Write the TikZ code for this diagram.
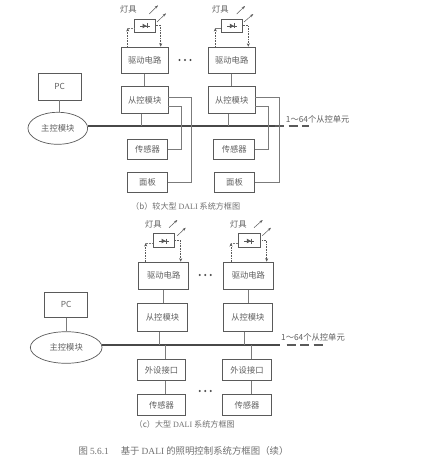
\documentclass[tikz,border=0pt]{standalone}
\usepackage{fontspec}
\newfontfamily\cjk{Noto Sans CJK SC}
\newfontfamily\lser{Liberation Serif}
\usetikzlibrary{shapes.geometric,arrows.meta,calc}
\definecolor{ink}{HTML}{5A5A5A}
\definecolor{txt}{HTML}{606060}
\definecolor{capt}{HTML}{707070}
\tikzset{
  bx/.style 2 args={draw=ink,line width=.7pt,fill=white,minimum width=#1pt,minimum height=#2pt,inner sep=0pt,font=\cjk\fontsize{8.3}{10}\selectfont,text=txt},
  lampbox/.style 2 args={draw=ink,line width=.6pt,fill=white,minimum width=#1pt,minimum height=#2pt,inner sep=0pt},
  oval/.style 2 args={ellipse,draw=ink,line width=.7pt,fill=white,minimum width=#1pt,minimum height=#2pt,inner sep=0pt,font=\cjk\fontsize{8.3}{10}\selectfont,text=txt},
  lbl/.style={inner sep=0pt,font=\cjk\fontsize{8.3}{10}\selectfont,text=txt},
  captxt/.style={inner sep=0pt,font=\cjk\fontsize{8.1}{10}\selectfont,text=capt},
  wire/.style={draw=ink!80,line width=.7pt},
  busline/.style={draw=ink!80!black,line width=1.2pt},
  busdash/.style={draw=ink,line width=1.2pt,dash pattern=on 9pt off 4.5pt},
  feed/.style={draw=ink,line width=.6pt,densely dotted,-{Stealth[length=3.5pt,width=3pt]}},
  ray/.style={draw=ink,line width=.5pt,-{Stealth[length=3.5pt,width=2.5pt]}},
}
\newcommand{\diodeat}[2]{%
  \fill[ink] (#1-2.5,#2-2.3) -- (#1+1.8,#2) -- (#1-2.5,#2+2.3) -- cycle;
  \draw[ink,line width=.6pt] (#1+2.2,#2-2.5) -- (#1+2.2,#2+2.5);
  \draw[ink,line width=.4pt] (#1-5,#2) -- (#1+5,#2);
}
\newcommand{\threedots}[2]{%
  \foreach \d in {-5.5,0,5.5} \fill[ink!80!black] (#1+\d,#2) circle (1.1pt);
}
\begin{document}
\begin{tikzpicture}[x=1pt,y=-1pt]
\useasboundingbox (0,0) rectangle (428,460);
\fill[white] (0,0) rectangle (428,460);

% ---------- panel b ----------
\node[bx={42.7}{26.7}] (pcb) at (59.7,86.7) {PC};
\node[oval={59.7}{32}] (mb) at (57.8,128.3) {主控模块};
\node[lampbox={21}{13}] (lb1) at (144.8,25.5) {};
\node[lampbox={21}{13}] (lb2) at (231.8,25.5) {};
\node[bx={46.7}{26.3}] (db1) at (144.7,60.2) {驱动电路};
\node[bx={46.7}{26.3}] (db2) at (231.7,60.2) {驱动电路};
\node[bx={46.7}{26.6}] (sb1) at (144.7,100) {从控模块};
\node[bx={46.7}{26.6}] (sb2) at (231.7,100) {从控模块};
\node[bx={40.4}{20}] (tb1) at (147.5,149.3) {传感器};
\node[bx={41}{20}] (tb2) at (234.2,149.3) {传感器};
\node[bx={40.4}{20}] (fb1) at (147.5,182.3) {面板};
\node[bx={40.4}{20}] (fb2) at (234.5,182.3) {面板};
\coordinate (busbend) at (275,126);
\coordinate (busend) at (309,126);
\coordinate (fl1) at (127.7,28);
\coordinate (fl2) at (215.3,28);
\node[lbl,anchor=west] (lab1) at (285.7,119.7) {1～64个从控单元};
\node[lbl,anchor=center] (lamp1) at (128.3,9.3) {灯具};
\node[lbl,anchor=center] (lamp2) at (220.3,9.3) {灯具};
\node[captxt,anchor=west] (cb) at (131,206.7) {（b）较大型 {\lser DALI} 系统方框图};

\draw[wire] (pcb) -- (pcb |- mb.north);
\draw[wire] (db1.south) -- (sb1.north);
\draw[wire] (db2.south) -- (sb2.north);
\draw[busline] (mb.east |- busbend) -- (busbend);
\draw[busdash] (busbend) -- (busend);
\draw[wire] ([xshift=-3.7pt]sb1.south) -- ([xshift=-3.7pt]sb1.south |- busbend);
\draw[wire] ([xshift=-3.4pt]sb2.south) -- ([xshift=-3.4pt]sb2.south |- busbend);
\draw[wire] ([yshift=2.7pt]sb1.east) -- +(22.7,0) |- (fb1.east);
\draw[wire] ([yshift=-6.7pt]sb1.east) -- +(13.3,0) |- (tb1.east);
\draw[wire] ([yshift=2.7pt]sb2.east) -- +(23.7,0) |- (fb2.east);
\draw[wire] ([yshift=-6.7pt]sb2.east) -- +(13.3,0) |- (tb2.east);
\draw[feed] ([xshift=-17pt]db1.north) -- (fl1);
\draw[wire,line width=.5pt,densely dotted] (fl1) -- (fl1 -| lb1.west);
\draw[feed] (lb1.east) -| ([xshift=16pt]db1.north);
\draw[feed] ([xshift=-16.4pt]db2.north) -- (fl2);
\draw[wire,line width=.5pt] (fl2) -- (fl2 -| lb2.west);
\draw[feed] (lb2.east) -| ([xshift=16.6pt]db2.north);
\diodeat{145}{26}
\diodeat{232.3}{26}
\draw[ray] (149.3,14) -- (158,5.3);
\draw[ray] (157,22) -- (166,13.3);
\draw[ray] (236.7,14) -- (245,6);
\draw[ray] (244,22) -- (253.3,14);
\threedots{185}{60}

% ---------- panel c ----------
\node[bx={43}{25.3}] (pcc) at (66.2,304.7) {PC};
\node[oval={71.7}{31.6}] (mc) at (66.2,347.5) {主控模块};
\node[lampbox={21.7}{14}] (lc1) at (163.8,240.7) {};
\node[lampbox={21.7}{14}] (lc2) at (249.2,240.7) {};
\node[bx={50}{27.3}] (dc1) at (163.7,275.7) {驱动电路};
\node[bx={49.3}{27.3}] (dc2) at (248.4,275.7) {驱动电路};
\node[bx={50.4}{28.4}] (sc1) at (162.5,317.5) {从控模块};
\node[bx={49.7}{28.4}] (sc2) at (247.9,317.5) {从控模块};
\node[bx={48.4}{21.4}] (ic1) at (161.5,370) {外设接口};
\node[bx={49.4}{21.4}] (ic2) at (247,370) {外设接口};
\node[bx={48.4}{21}] (tc1) at (161.5,405.2) {传感器};
\node[bx={49.4}{21}] (tc2) at (247,405.2) {传感器};
\coordinate (busbendc) at (280,345);
\coordinate (busendc) at (323.3,345);
\coordinate (fl3) at (145.7,243);
\coordinate (fl4) at (231,243);
\node[lbl,anchor=west] (lab2) at (281,337) {1～64个从控单元};
\node[lbl,anchor=center] (lamp3) at (153.3,224.3) {灯具};
\node[lbl,anchor=center] (lamp4) at (238.3,224.3) {灯具};
\node[captxt,anchor=west] (cc) at (134.5,424.7) {（c）大型 {\lser DALI} 系统方框图};
\node[captxt,anchor=west,font=\cjk\fontsize{9.4}{11}\selectfont] (cm) at (78.3,450.7) {图 {\lser 5.6.1}\hspace{12pt}基于 {\lser DALI} 的照明控制系统方框图（续）};

\draw[wire] (pcc) -- (mc.north);
\draw[wire] (dc1.south) -- (dc1.south |- sc1.north);
\draw[wire] (dc2.south) -- (dc2.south |- sc2.north);
\draw[busline] (mc.east |- busbendc) -- (busbendc);
\draw[busdash] ([xshift=6.7pt]busbendc) -- (busendc);
\draw[wire] ([xshift=-3.5pt]sc1.south) -- ([xshift=-3.5pt]sc1.south |- busbendc);
\draw[wire] ([xshift=-3.6pt]sc2.south) -- ([xshift=-3.6pt]sc2.south |- busbendc);
\draw[wire] ([xshift=4.2pt]ic1.north) -- ([xshift=4.2pt]ic1.north |- busbendc);
\draw[wire] ([xshift=4.3pt]ic2.north) -- ([xshift=4.3pt]ic2.north |- busbendc);
\draw[wire] ([xshift=4.2pt]ic1.south) -- ([xshift=4.2pt]tc1.north);
\draw[wire] ([xshift=4.3pt]ic2.south) -- ([xshift=4.3pt]tc2.north);
\draw[feed] ([xshift=-18pt]dc1.north) -- (fl3);
\draw[wire,line width=.5pt,densely dotted] (fl3) -- (fl3 -| lc1.west);
\draw[feed] (lc1.east) -| ([xshift=17pt]dc1.north);
\draw[feed] ([xshift=-17.4pt]dc2.north) -- (fl4);
\draw[wire,line width=.5pt,densely dotted] (fl4) -- (fl4 -| lc2.west);
\draw[feed] (lc2.east) -| ([xshift=18.3pt]dc2.north);
\diodeat{164}{241}
\diodeat{249.3}{241}
\draw[ray] (169,227.7) -- (177.3,220);
\draw[ray] (177.3,235.7) -- (185.7,227.7);
\draw[ray] (254,227.7) -- (262.7,220);
\draw[ray] (262.3,235.7) -- (271,227.7);
\threedots{205.2}{275}
\threedots{205.2}{391}
\end{tikzpicture}
\end{document}
